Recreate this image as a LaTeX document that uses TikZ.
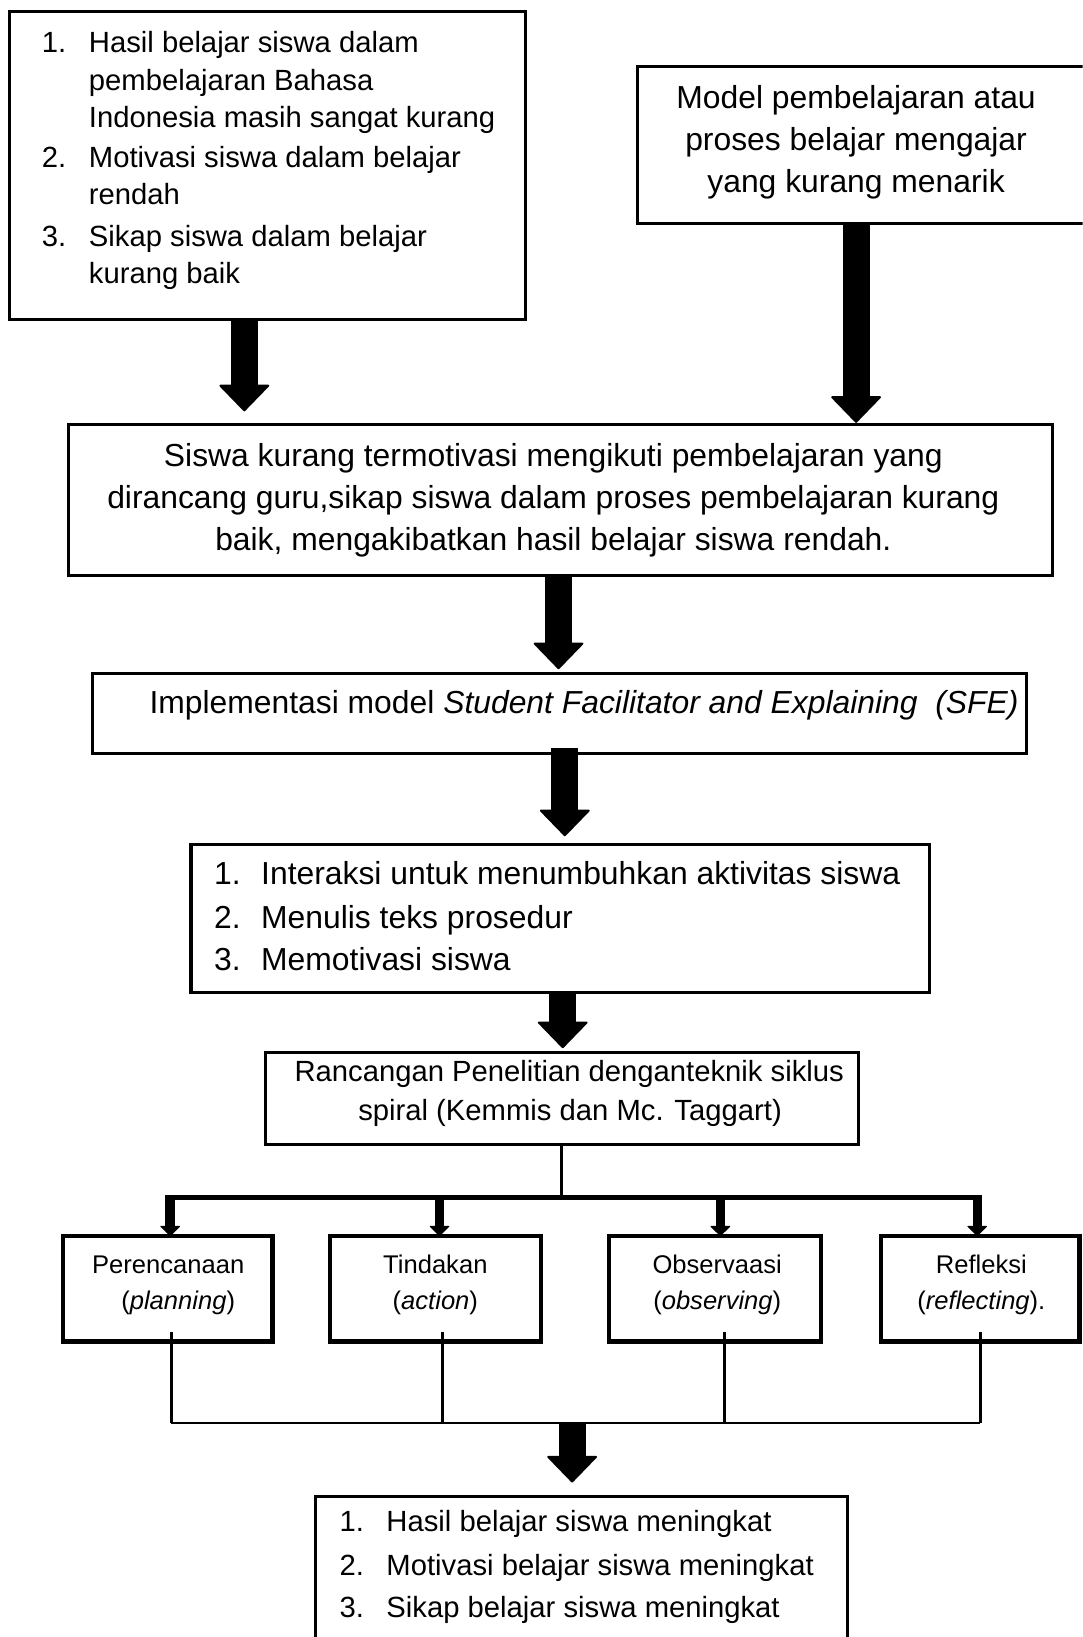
\documentclass[tikz,border=0pt]{standalone}
\usepackage{fontspec}
\setmainfont{Liberation Sans}
\usetikzlibrary{arrows.meta,calc}
\begin{document}
\begin{tikzpicture}[x=1pt,y=-1pt,
  box/.style={draw,line width=3pt,anchor=north west,inner sep=0pt,outer sep=0pt},
  gbox/.style={box,line width=4pt,minimum width=#1,minimum height=101pt},
  tl/.style={anchor=base west,inner sep=0pt},
  tc/.style={anchor=base,inner sep=0pt},
  fa/.style={font=\fontsize{28}{34}\selectfont},
  fb/.style={font=\fontsize{30.5}{36}\selectfont},
  fg/.style={font=\fontsize{24.5}{30}\selectfont},
  barrow/.style={line width=26pt,-{Triangle[width=50pt,length=26pt,line width=2pt,round]}},
  sarrow/.style={line width=9pt,-{Triangle[width=20pt,length=10pt,line width=1pt,round]}},
  link/.style={line width=2.5pt},
  barline/.style={line width=4.5pt,line cap=rect}
]
\useasboundingbox (0,0) rectangle (1037,1568);
\clip (0,0) rectangle (1037,1568);

% ---------- Box A ----------
\node[box,minimum width=494pt,minimum height=295pt] (A) at (9,11) {};
\node[tl,fa] (a1n) at (40,50.5) {1.};
\node[tl,fa] (a1) at (85,50.5) {Hasil belajar siswa dalam};
\node[tl,fa] (a2) at (85,87) {pembelajaran Bahasa};
\node[tl,fa] (a3) at (85,122.5) {Indonesia masih sangat kurang};
\node[tl,fa] (a4n) at (40,160.5) {2.};
\node[tl,fa] (a4) at (85,160.5) {Motivasi siswa dalam belajar};
\node[tl,fa] (a5) at (85,195.5) {rendah};
\node[tl,fa] (a6n) at (40,236) {3.};
\node[tl,fa] (a6) at (85,236) {Sikap siswa dalam belajar};
\node[tl,fa] (a7) at (85,272) {kurang baik};

% ---------- Box B ----------
\node[box,minimum width=434pt,minimum height=150pt] (B) at (611,64) {};
\node[tc,fb] (b1t) at (820,104) {Model pembelajaran atau};
\node[tc,fb] (b2t) at (820,144) {proses belajar mengajar};
\node[tc,fb] (b3t) at (820,184) {yang kurang menarik};

% ---------- Box C ----------
\node[box,minimum width=942pt,minimum height=144pt] (C) at (66,407) {};
\node[tc,fb] (c1) at (530,447) {Siswa kurang termotivasi mengikuti pembelajaran yang};
\node[tc,fb] (c2) at (530,487) {dirancang guru,sikap siswa dalam proses pembelajaran kurang};
\node[tc,fb] (c3) at (530,527) {baik, mengakibatkan hasil belajar siswa rendah.};

% ---------- Box D ----------
\node[box,minimum width=894pt,minimum height=77pt] (D) at (89,645) {};
\node[tl,fb] (d1) at (143,683) {Implementasi model \textit{Student Facilitator and Explaining~~(SFE)}};

% ---------- Box E ----------
\node[box,minimum width=707pt,minimum height=142pt] (E) at (183,809) {};
\node[tl,fb] (e1n) at (205,847) {1.};
\node[tl,fb] (e1) at (250,847) {Interaksi untuk menumbuhkan aktivitas siswa};
\node[tl,fb] (e2n) at (205,889) {2.};
\node[tl,fb] (e2) at (250,889) {Menulis teks prosedur};
\node[tl,fb] (e3n) at (205,930) {3.};
\node[tl,fb] (e3) at (250,930) {Memotivasi siswa};

% ---------- Box F ----------
\node[box,minimum width=568pt,minimum height=88pt] (F) at (254,1008) {};
\node[tl,fa] (f1) at (282,1036) {Rancangan Penelitian denganteknik siklus};
\node[tl,fa] (f2) at (343,1073) {spiral (Kemmis dan Mc. Taggart)};

% ---------- G boxes ----------
\node[gbox=201pt] (G1) at (60,1184) {};
\node[gbox=202pt] (G2) at (316,1184) {};
\node[gbox=203pt] (G3) at (583,1184) {};
\node[gbox=190pt] (G4) at (844,1184) {};
\node[tl,fg] (g1a) at (88,1220) {Perencanaan};
\node[tl,fg] (g1b) at (116,1254) {(\textit{planning})};
\node[tc,fg] (g2a) at (417,1220) {Tindakan};
\node[tc,fg] (g2b) at (417,1254) {(\textit{action})};
\node[tc,fg] (g3a) at (687,1220) {Observaasi};
\node[tc,fg] (g3b) at (687,1254) {(\textit{observing})};
\node[tc,fg] (g4a) at (940,1220) {Refleksi};
\node[tc,fg] (g4b) at (940,1254) {(\textit{reflecting}).};

% ---------- Box I ----------
\node[box,minimum width=510pt,minimum height=220pt] (I) at (302,1433) {};
\node[tl,fa] (i1n) at (325,1467) {1.};
\node[tl,fa] (i1) at (370,1467) {Hasil belajar siswa meningkat};
\node[tl,fa] (i2n) at (325,1509) {2.};
\node[tl,fa] (i2) at (370,1509) {Motivasi belajar siswa meningkat};
\node[tl,fa] (i3n) at (325,1549) {3.};
\node[tl,fa] (i3) at (370,1549) {Sikap belajar siswa meningkat};

% ---------- block arrows ----------
\coordinate (xa) at (234,0);
\coordinate (xb) at (820,0);
\coordinate (xc) at (535,0);
\coordinate (xd) at (541,0);
\coordinate (xe) at (539,0);
\draw[barrow] (A.south -| xa) -- ($(C.north -| xa)+(0,-13)$);
\draw[barrow] (B.south -| xb) -- ($(C.north -| xb)+(0,-2)$);
\draw[barrow] (C.south -| xc) -- ($(D.north -| xc)+(0,-4)$);
\draw[barrow] ($(D.south -| xd)+(0,-6)$) -- ($(E.north -| xd)+(0,-8)$);
\draw[barrow] (E.south -| xe) -- ($(F.north -| xe)+(0,-4)$);

% ---------- fork ----------
\coordinate (bar) at (538,1147);
\coordinate (b1) at (163,1147);
\coordinate (b2) at (421,1147);
\coordinate (b3) at (690,1147);
\coordinate (b4) at (936,1147);
\draw[link] (F.south) -- (bar);
\draw[barline] (b1) -- (b4);
\draw[sarrow] ($(b1)+(0,-2)$) -- (G1.north -| b1);
\draw[sarrow] ($(b2)+(0,-2)$) -- (G2.north -| b2);
\draw[sarrow] ($(b3)+(0,-2)$) -- (G3.north -| b3);
\draw[sarrow] ($(b4)+(0,-2)$) -- (G4.north -| b4);

% ---------- join ----------
\coordinate (l1) at (164,1363);
\coordinate (l2) at (424,1363);
\coordinate (l3) at (694,1363);
\coordinate (l4) at (939,1363);
\draw[link] ($(G1.south -| l1)+(0,-9)$) -- (l1);
\draw[link] ($(G2.south -| l2)+(0,-9)$) -- (l2);
\draw[link] ($(G3.south -| l3)+(0,-9)$) -- (l3);
\draw[link] ($(G4.south -| l4)+(0,-9)$) -- (l4);
\draw[link] (l1) -- (l4);
\coordinate (hj) at (548,1362);
\draw[barrow] (hj) -- ($(I.north -| hj)+(0,-13)$);
\end{tikzpicture}
\end{document}
